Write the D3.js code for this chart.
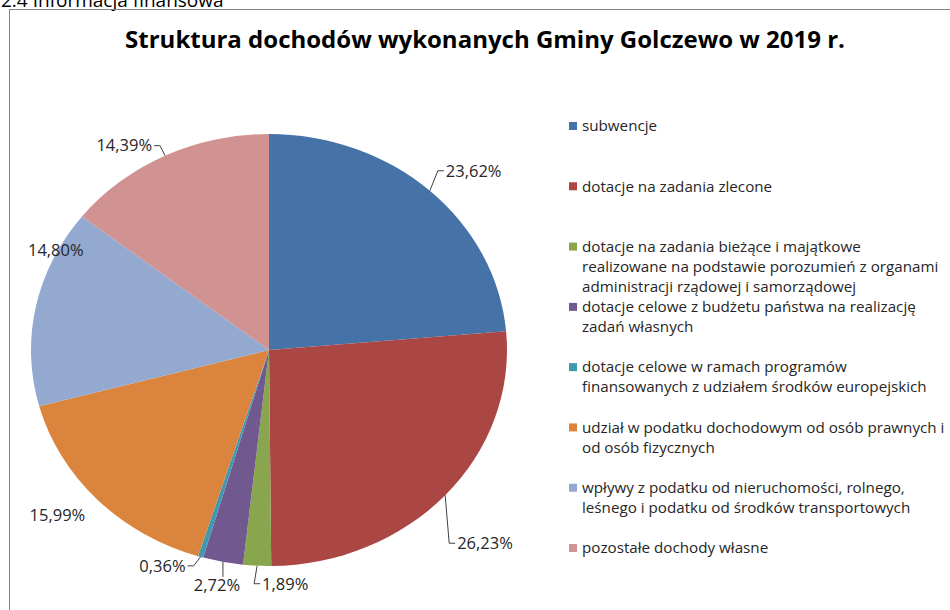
<!DOCTYPE html>
<html>
  <head>
    <meta charset="utf-8" />
    <script src="https://cdn.jsdelivr.net/npm/d3@7/dist/d3.min.js"></script>
    <style>
      body {
        margin: 0;
        background: white;
      }
      text {
        font-family: "Open Sans", sans-serif;
      }
    </style>
  </head>
  <body>
    <svg id="chart"></svg>
    <script type="text/javascript">
      // data (percent of total revenue)
      const categories = [
        ["subwencje"],
        ["dotacje na zadania zlecone"],
        [
          "dotacje na zadania bieżące i majątkowe",
          "realizowane na podstawie porozumień z organami",
          "administracji rządowej i samorządowej"
        ],
        ["dotacje celowe z budżetu państwa na realizację", "zadań własnych"],
        [
          "dotacje celowe w ramach programów",
          "finansowanych z udziałem środków europejskich"
        ],
        ["udział w podatku dochodowym od osób prawnych i", "od osób fizycznych"],
        [
          "wpływy z podatku od nieruchomości, rolnego,",
          "leśnego i podatku od środków transportowych"
        ],
        ["pozostałe dochody własne"]
      ];
      const shares = [23.62, 26.23, 1.89, 2.72, 0.36, 15.99, 14.8, 14.39];
      const colors = [
        "#4572A7",
        "#AA4643",
        "#89A54E",
        "#71588F",
        "#4198AF",
        "#DB843D",
        "#93A9CF",
        "#D19392"
      ];

      const width = 950,
        height = 610;

      // pie is drawn slightly stretched, like the excel original
      const cx = 269,
        cy = 350,
        rx = 238,
        ry = 216;

      // where each data label sits relative to the slice edge point
      // [dx, dy, text-anchor, leader?]
      const labelPlace = [
        [16, -20, "start", true],
        [12, 48, "start", true],
        [5, 18, "start", true],
        [-6, 23, "middle", true],
        [-15, 9, "end", true],
        [-40, 16, "middle", false],
        [20, -57, "middle", false],
        [-13, -10, "end", true]
      ];

      const pl = d3.formatLocale({
        decimal: ",",
        thousands: " ",
        grouping: [3],
        currency: ["", " zł"]
      });
      const fmt = d => pl.format(".2f")(d) + "%";

      const svg = d3
        .select("#chart")
        .attr("width", width)
        .attr("height", height);

      svg
        .append("rect")
        .attr("width", width)
        .attr("height", height)
        .attr("fill", "white");

      // heading of the report page, cut off at the top
      svg
        .append("text")
        .attr("x", 1)
        .attr("y", 7)
        .style("font-size", "19px")
        .attr("fill", "#000")
        .text("2.4 Informacja finansowa");

      svg
        .append("rect")
        .attr("x", 9.5)
        .attr("y", 9.5)
        .attr("width", width + 20)
        .attr("height", height + 20)
        .attr("fill", "none")
        .attr("stroke", "#868686");

      svg
        .append("text")
        .attr("x", 485)
        .attr("y", 48)
        .attr("text-anchor", "middle")
        .style("font-size", "24px")
        .style("font-weight", "bold")
        .text("Struktura dochodów wykonanych Gminy Golczewo w 2019 r.");

      const pie = d3
        .pie()
        .sort(null)
        .value(d => d);
      const arcs = pie(shares);

      const arc = d3
        .arc()
        .innerRadius(0)
        .outerRadius(ry);

      const pieG = svg
        .append("g")
        .attr("transform", `translate(${cx},${cy}) scale(${rx / ry},1)`);

      pieG
        .selectAll("path")
        .data(arcs)
        .enter()
        .append("path")
        .attr("d", arc)
        .attr("fill", (d, i) => colors[i]);

      // labels
      const edge = a => {
        const m = (a.startAngle + a.endAngle) / 2;
        return [cx + rx * Math.sin(m), cy - ry * Math.cos(m)];
      };

      const labels = svg.append("g");

      arcs.forEach((a, i) => {
        const [ex, ey] = edge(a);
        const [dx, dy, anchor, leader] = labelPlace[i];
        const tx = ex + dx,
          ty = ey + dy;

        if (leader) {
          let pts;
          if (anchor == "start") pts = [[ex, ey], [tx - 8, ty], [tx - 2, ty]];
          else if (anchor == "end") pts = [[ex, ey], [tx + 8, ty], [tx + 2, ty]];
          else pts = [[ex, ey], [ex, ty - 8]];
          labels
            .append("path")
            .attr("d", d3.line()(pts))
            .attr("fill", "none")
            .attr("stroke", "#404040")
            .attr("stroke-width", 1);
        }

        labels
          .append("text")
          .attr("x", tx)
          .attr("y", ty)
          .attr("dy", "0.35em")
          .attr("text-anchor", anchor)
          .style("font-size", "16.5px")
          .attr("fill", "#262626")
          .text(fmt(shares[i]));
      });

      // legend
      const ly = d3
        .scalePoint()
        .domain(d3.range(categories.length))
        .range([126, 548]);

      const legend = svg
        .append("g")
        .attr("transform", "translate(569,0)");

      const item = legend
        .selectAll("g")
        .data(categories)
        .enter()
        .append("g")
        .attr("transform", (d, i) => `translate(0,${ly(i)})`);

      item
        .append("rect")
        .attr("y", -4)
        .attr("width", 8)
        .attr("height", 8)
        .attr("fill", (d, i) => colors[i]);

      item
        .append("text")
        .style("font-size", "15.2px")
        .attr("fill", "#262626")
        .selectAll("tspan")
        .data(d => d)
        .enter()
        .append("tspan")
        .attr("x", 13)
        .attr("y", (d, j) => j * 20)
        .attr("dy", "0.35em")
        .text(d => d);
    </script>
  </body>
</html>
